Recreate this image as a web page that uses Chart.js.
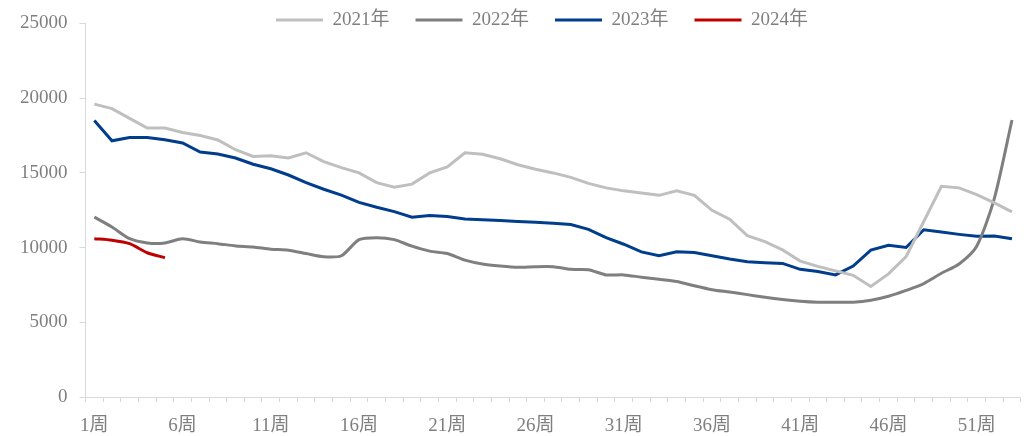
<!DOCTYPE html>
<html>
<head>
<meta charset="utf-8">
<script src="https://cdn.jsdelivr.net/npm/chart.js@4.4.1/dist/chart.umd.min.js"></script>
<style>
  html, body { margin: 0; padding: 0; background: #fff; }
  #wrap { width: 1024px; height: 436px; }
</style>
</head>
<body>
<div id="wrap"><canvas id="chart"></canvas></div>
<script>
const weeks = ['1周','2周','3周','4周','5周','6周','7周','8周','9周','10周',
  '11周','12周','13周','14周','15周','16周','17周','18周','19周','20周',
  '21周','22周','23周','24周','25周','26周','27周','28周','29周','30周',
  '31周','32周','33周','34周','35周','36周','37周','38周','39周','40周',
  '41周','42周','43周','44周','45周','46周','47周','48周','49周','50周',
  '51周','52周','53周']

const y2021 = [19600,19300,18650,18000,18000,17700,17500,17200,16550,16100,
  16150,16000,16350,15750,15350,15000,14350,14050,14250,15000,
  15400,16350,16250,15950,15550,15250,15000,14700,14300,14000,
  13800,13650,13500,13800,13500,12500,11900,10800,10400,9850,
  9100,8750,8450,8150,7400,8250,9400,11750,14100,14000,
  13550,13000,12400]

const y2022 = [12040,11380,10600,10320,10320,10600,10380,10270,10120,10050,
  9900,9835,9610,9390,9460,10540,10670,10540,10100,9770,
  9610,9170,8910,8775,8685,8730,8730,8550,8530,8180,
  8180,8025,7890,7740,7450,7190,7030,6860,6680,6530,
  6415,6350,6350,6350,6480,6750,7140,7600,8290,8910,
  10100,13300,18540]

const y2023 = [18500,17150,17375,17375,17220,17000,16400,16270,16000,15580,
  15280,14860,14350,13910,13510,13030,12700,12415,12040,12150,
  12080,11925,11860,11820,11750,11700,11640,11550,11230,10670,
  10230,9720,9460,9720,9680,9460,9240,9060,8995,8950,
  8550,8400,8180,8775,9835,10165,10010,11200,11045,10890,
  10760,10780,10600]

const y2024 = [10600,10500,10270,9660,9330]

const yTicks = [0,5000,10000,15000,20000,25000]

const font = { family: "'Liberation Serif', 'Times New Roman', 'Noto Sans CJK SC', serif", size: 19 }
const textColor = '#7f7f7f'
const axisColor = '#d9d9d9'

// legend takes no room above the plot; it is drawn inside it, level with the top tick
const legendInside = {
  id: 'legendInside',
  beforeLayout(chart){
    const l = chart.legend
    if(l && !l._flat){
      const fit = l.fit
      l.fit = function(){ fit.call(this); this._realHeight = this.height; this.height = 0 }
      l._flat = true
    }
  },
  afterLayout(chart){
    const l = chart.legend
    if(l){
      l.height = l._realHeight
      l.top = 20 - 26 - 9.5
      l.bottom = l.top + l.height
      l.left += 26
      l.right += 26
    }
  }
}

function line(label, data, color, tension){
  return {
    label: label,
    data: data,
    borderColor: color,
    backgroundColor: color,
    borderWidth: 3,
    pointRadius: 0,
    tension: tension,
    fill: false
  }
}

let ctx = document.getElementById('chart').getContext('2d')
let chart = new Chart(ctx, {
  type: 'line',
  data: {
    labels: weeks,
    datasets: [
      line('2021年', y2021, '#bfbfbf', 0),
      line('2022年', y2022, '#7f7f7f', 0.25),
      line('2023年', y2023, '#003d8c', 0),
      line('2024年', y2024, '#c00000', 0.25)
    ]
  },
  options: {
    responsive: true,
    maintainAspectRatio: false,
    animation: false,
    layout: { padding: { left: 8, top: 19, right: 0, bottom: -13 } },
    plugins: {
      tooltip: { enabled: false },
      legend: {
        position: 'top',
        align: 'center',
        labels: {
          boxWidth: 47,
          boxHeight: 3,
          padding: 26,
          color: textColor,
          font: font,
          generateLabels(c){
            return c.data.datasets.map((d, i)=>({
              text: d.label,
              fillStyle: d.borderColor,
              strokeStyle: d.borderColor,
              lineWidth: 0,
              fontColor: textColor,
              datasetIndex: i
            }))
          }
        }
      }
    },
    scales: {
      x: {
        offset: true,
        grid: { offset: true, drawOnChartArea: false, drawTicks: true, tickLength: 5, color: axisColor },
        border: { color: axisColor, width: 1 },
        ticks: {
          autoSkip: false,
          maxRotation: 0,
          padding: 12,
          color: textColor,
          font: font,
          callback(v, i){ return i % 5 === 0 ? weeks[i] : '' }
        }
      },
      y: {
        min: 0,
        max: 25000,
        afterBuildTicks(s){ s.ticks = yTicks.map(v=>({value: v})) },
        grid: { drawOnChartArea: false, drawTicks: true, tickLength: 6, color: axisColor },
        border: { color: axisColor, width: 1 },
        ticks: { padding: 12, color: textColor, font: font, callback: v => String(v) }
      }
    }
  },
  plugins: [legendInside]
})
</script>
</body>
</html>
